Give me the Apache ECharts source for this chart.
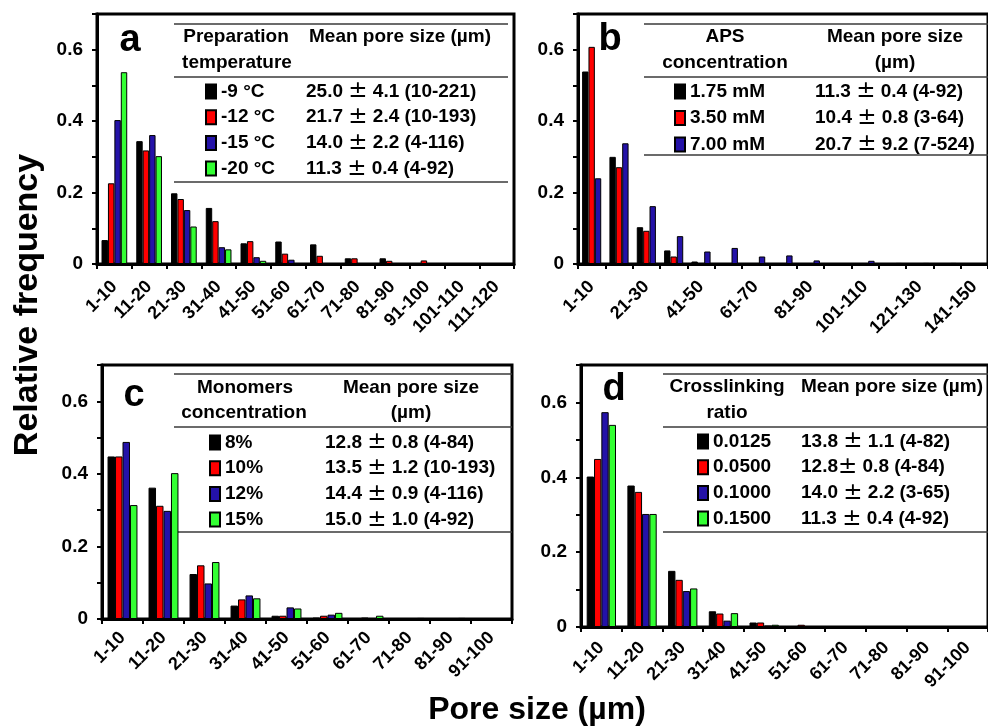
<!DOCTYPE html>
<html>
<head>
<meta charset="utf-8">
<title>Pore size distribution</title>
<script src="https://cdn.jsdelivr.net/npm/echarts@6/dist/echarts.min.js"></script>
<style>
html,body{margin:0;padding:0;background:#fff;}
#main{width:988px;height:726px;}
</style>
</head>
<body>
<div id="main"></div>
<script>
// ---- categories (pore size bins) ----
var catsA = ['1-10','11-20','21-30','31-40','41-50','51-60','61-70','71-80','81-90','91-100','101-110','111-120'];
var catsB = ['1-10','11-20','21-30','31-40','41-50','51-60','61-70','71-80','81-90','91-100','101-110','111-120','121-130','131-140','141-150'];
var catsC = ['1-10','11-20','21-30','31-40','41-50','51-60','61-70','71-80','81-90','91-100'];
var catsD = ['1-10','11-20','21-30','31-40','41-50','51-60','61-70','71-80','81-90','91-100'];

// ---- panel a: preparation temperature ----
var namesA = ['-9 °C','-12 °C','-15 °C','-20 °C'];
var meanA = ['25.0 ± 4.1 (10-221)','21.7 ± 2.4 (10-193)','14.0 ± 2.2 (4-116)','11.3 ± 0.4 (4-92)'];
var a9  = [0.067,0.344,0.198,0.157,0.058,0.063,0.055,0.016,0.016,0.002,0.002,0.002];
var a12 = [0.226,0.318,0.182,0.120,0.064,0.029,0.023,0.016,0.009,0.010,0.002,0.002];
var a15 = [0.403,0.361,0.151,0.047,0.019,0.012,0.002,0.002,0.001,0.001,0.001,0.001];
var a20 = [0.537,0.302,0.105,0.041,0.009,0.002,0.001,0.001,0.001,0.001,0.001,0.001];

// ---- panel b: APS concentration ----
var namesB = ['1.75 mM','3.50 mM','7.00 mM'];
var meanB = ['11.3 ± 0.4 (4-92)','10.4 ± 0.8 (3-64)','20.7 ± 9.2 (7-524)'];
var b175 = [0.539,0.300,0.103,0.038,0.007,0.002,0.001,0.001,0.001,0.001,0.001,0.001,0.001,0.001,0.001];
var b350 = [0.608,0.271,0.093,0.021,0.001,0.001,0.001,0.001,0.001,0.001,0,0,0,0,0];
var b700 = [0.240,0.338,0.162,0.078,0.035,0.045,0.021,0.024,0.010,0.002,0.009,0.003,0.003,0.003,0.002];

// ---- panel c: monomers concentration ----
var namesC = ['8%','10%','12%','15%'];
var meanC = ['12.8 ± 0.8 (4-84)','13.5 ± 1.2 (10-193)','14.4 ± 0.9 (4-116)','15.0 ± 1.0 (4-92)'];
var c8  = [0.448,0.362,0.124,0.037,0.009,0.004,0.001,0.001,0.001,0.001];
var c10 = [0.448,0.312,0.148,0.054,0.009,0.009,0.004,0.001,0.001,0.001];
var c12 = [0.488,0.298,0.098,0.065,0.032,0.012,0.001,0.001,0.001,0.001];
var c15 = [0.314,0.402,0.157,0.057,0.029,0.017,0.009,0.003,0.003,0.001];

// ---- panel d: crosslinking ratio ----
var namesD = ['0.0125','0.0500','0.1000','0.1500'];
var meanD = ['13.8 ± 1.1 (4-82)','12.8± 0.8 (4-84)','14.0 ± 2.2 (3-65)','11.3 ± 0.4 (4-92)'];
var d0125 = [0.402,0.378,0.150,0.042,0.012,0.002,0.001,0.001,0.001,0.001];
var d0500 = [0.449,0.361,0.126,0.036,0.012,0.006,0.001,0.001,0.001,0.001];
var d1000 = [0.574,0.302,0.096,0.017,0.004,0.001,0.001,0.001,0.001,0.001];
var d1500 = [0.540,0.302,0.103,0.037,0.006,0.001,0.001,0.001,0.001,0.001];

var FONT = '"Liberation Sans", Arial, sans-serif';
var COLORS = ['#000000','#ff0000','#2412a8','#33ff33'];

var chart = echarts.init(document.getElementById('main'));

function xAxisCfg(i, cats, labelInterval, margin){
  return {
    type:'category', gridIndex:i, data:cats,
    axisLine:{show:true, lineStyle:{color:'#000', width:3}},
    axisTick:{show:true, interval:0, length:5, lineStyle:{color:'#000', width:2}},
    axisLabel:{interval:labelInterval, rotate:45, margin:margin, color:'#000',
      fontFamily:FONT, fontWeight:'bold', fontSize:18},
    splitLine:{show:false}
  };
}

function yAxisCfg(i){
  return {
    type:'value', gridIndex:i, min:0, max:0.7, interval:0.1,
    axisLine:{show:true, lineStyle:{color:'#000', width:3}},
    axisTick:{show:true, length:5, lineStyle:{color:'#000', width:2}},
    axisLabel:{margin:14, color:'#000', fontFamily:FONT, fontWeight:'bold', fontSize:19,
      formatter:function(v){
        var t = Math.round(v*10);
        if(t % 2 || t > 6) return '';
        return t === 0 ? '0' : (t/10).toFixed(1);
      }},
    splitLine:{show:false}
  };
}

function barSeries(i, names, arrays, gap){
  return arrays.map(function(arr, k){
    return {
      type:'bar', name:names[k], xAxisIndex:i, yAxisIndex:i, data:arr,
      barGap:'0%', barCategoryGap:gap,
      itemStyle:{color:COLORS[k], borderColor:'#000', borderWidth:1},
      emphasis:{disabled:true}
    };
  });
}

function legendCfg(names, left, top, gap){
  return {
    data:names, orient:'vertical', left:left, top:top, padding:0,
    icon:'rect', itemWidth:10, itemHeight:14, itemGap:gap, selectedMode:false,
    textStyle:{color:'#000', fontFamily:FONT, fontWeight:'bold', fontSize:19, lineHeight:18}
  };
}

function txt(s, x, y, size, align){
  return {type:'text', z:100, style:{text:s, x:x, y:y,
    align:align || 'center', textAlign:align || 'center',
    verticalAlign:'middle', textVerticalAlign:'middle',
    font:'bold ' + size + 'px ' + FONT, fill:'#000'}};
}
// mean value rows: the ± sign is drawn larger and thinner, as in the original
function meanTxt(s, x, y){
  var t = txt(s.replace('±', '{p|±}'), x, y, 19, 'left');
  t.style.rich = {p:{fontFamily:'"DejaVu Sans"', fontWeight:'normal', fontSize:23, fill:'#000'}};
  return t;
}
function hline(x1, x2, y){
  return {type:'line', z:1, shape:{x1:x1, y1:y, x2:x2, y2:y}, style:{stroke:'#3a3a3a', lineWidth:1.3}};
}

var graphics = [];
// table a
graphics.push(hline(174,508,24), hline(174,508,77), hline(174,508,182));
graphics.push(txt('Preparation',236,37,19), txt('temperature',237,63,19), txt('Mean pore size (µm)',309,37,19,'left'));
meanA.forEach(function(s,k){ graphics.push(meanTxt(s,306,91.5+25.7*k)); });
// table b
graphics.push(hline(644,988,24), hline(644,988,77), hline(644,988,155));
graphics.push(txt('APS',725,37,19), txt('concentration',725,63,19), txt('Mean pore size',895,37,19), txt('(µm)',895,63,19));
meanB.forEach(function(s,k){ graphics.push(meanTxt(s,815,91.5+26.5*k)); });
// table c
graphics.push(hline(174,512,374), hline(174,512,427), hline(174,512,532));
graphics.push(txt('Monomers',245,388,19), txt('concentration',244,413,19), txt('Mean pore size',411,388,19), txt('(µm)',411,413,19));
meanC.forEach(function(s,k){ graphics.push(meanTxt(s,325,442.5+25.7*k)); });
// table d
graphics.push(hline(663,988,374), hline(663,988,427), hline(663,988,532));
graphics.push(txt('Crosslinking',727,387,19), txt('ratio',727,413,19), txt('Mean pore size (µm)',801,387,19,'left'));
meanD.forEach(function(s,k){ graphics.push(meanTxt(s,801,441.5+25.7*k)); });
// panel letters
graphics.push(txt('a',130,41,38), txt('b',610,40,38), txt('c',134,396,38), txt('d',614,390,38));
// axis titles
var yTitle = txt('Relative frequency',0,0,34);
yTitle.rotation = Math.PI/2; yTitle.x = 28; yTitle.y = 305;
graphics.push(yTitle, txt('Pore size (µm)',537,710,32));

var option = {
  animation:false,
  backgroundColor:'#fff',
  grid:[
    {left:97, top:14, width:417, height:250, show:true, borderColor:'#000', borderWidth:3},
    {left:578, top:14, width:418, height:250, show:true, borderColor:'#000', borderWidth:3},
    {left:102, top:365, width:410, height:254, show:true, borderColor:'#000', borderWidth:3},
    {left:581, top:365, width:417, height:262, show:true, borderColor:'#000', borderWidth:3}
  ],
  xAxis:[xAxisCfg(0,catsA,0,20), xAxisCfg(1,catsB,1,20), xAxisCfg(2,catsC,0,16), xAxisCfg(3,catsD,0,18)],
  yAxis:[yAxisCfg(0), yAxisCfg(1), yAxisCfg(2), yAxisCfg(3)],
  legend:[
    legendCfg(namesA,205,82,6.7),
    legendCfg(namesB,674,82,7.5),
    legendCfg(namesC,209,433,6.7),
    legendCfg(namesD,697,432,6.7)
  ],
  graphic:graphics,
  series:[].concat(
    barSeries(0,namesA,[a9,a12,a15,a20],'26%'),
    barSeries(1,namesB,[b175,b350,b700],'30%'),
    barSeries(2,namesC,[c8,c10,c12,c15],'27%'),
    barSeries(3,namesD,[d0125,d0500,d1000,d1500],'28%')
  )
};
chart.setOption(option);
</script>
</body>
</html>
